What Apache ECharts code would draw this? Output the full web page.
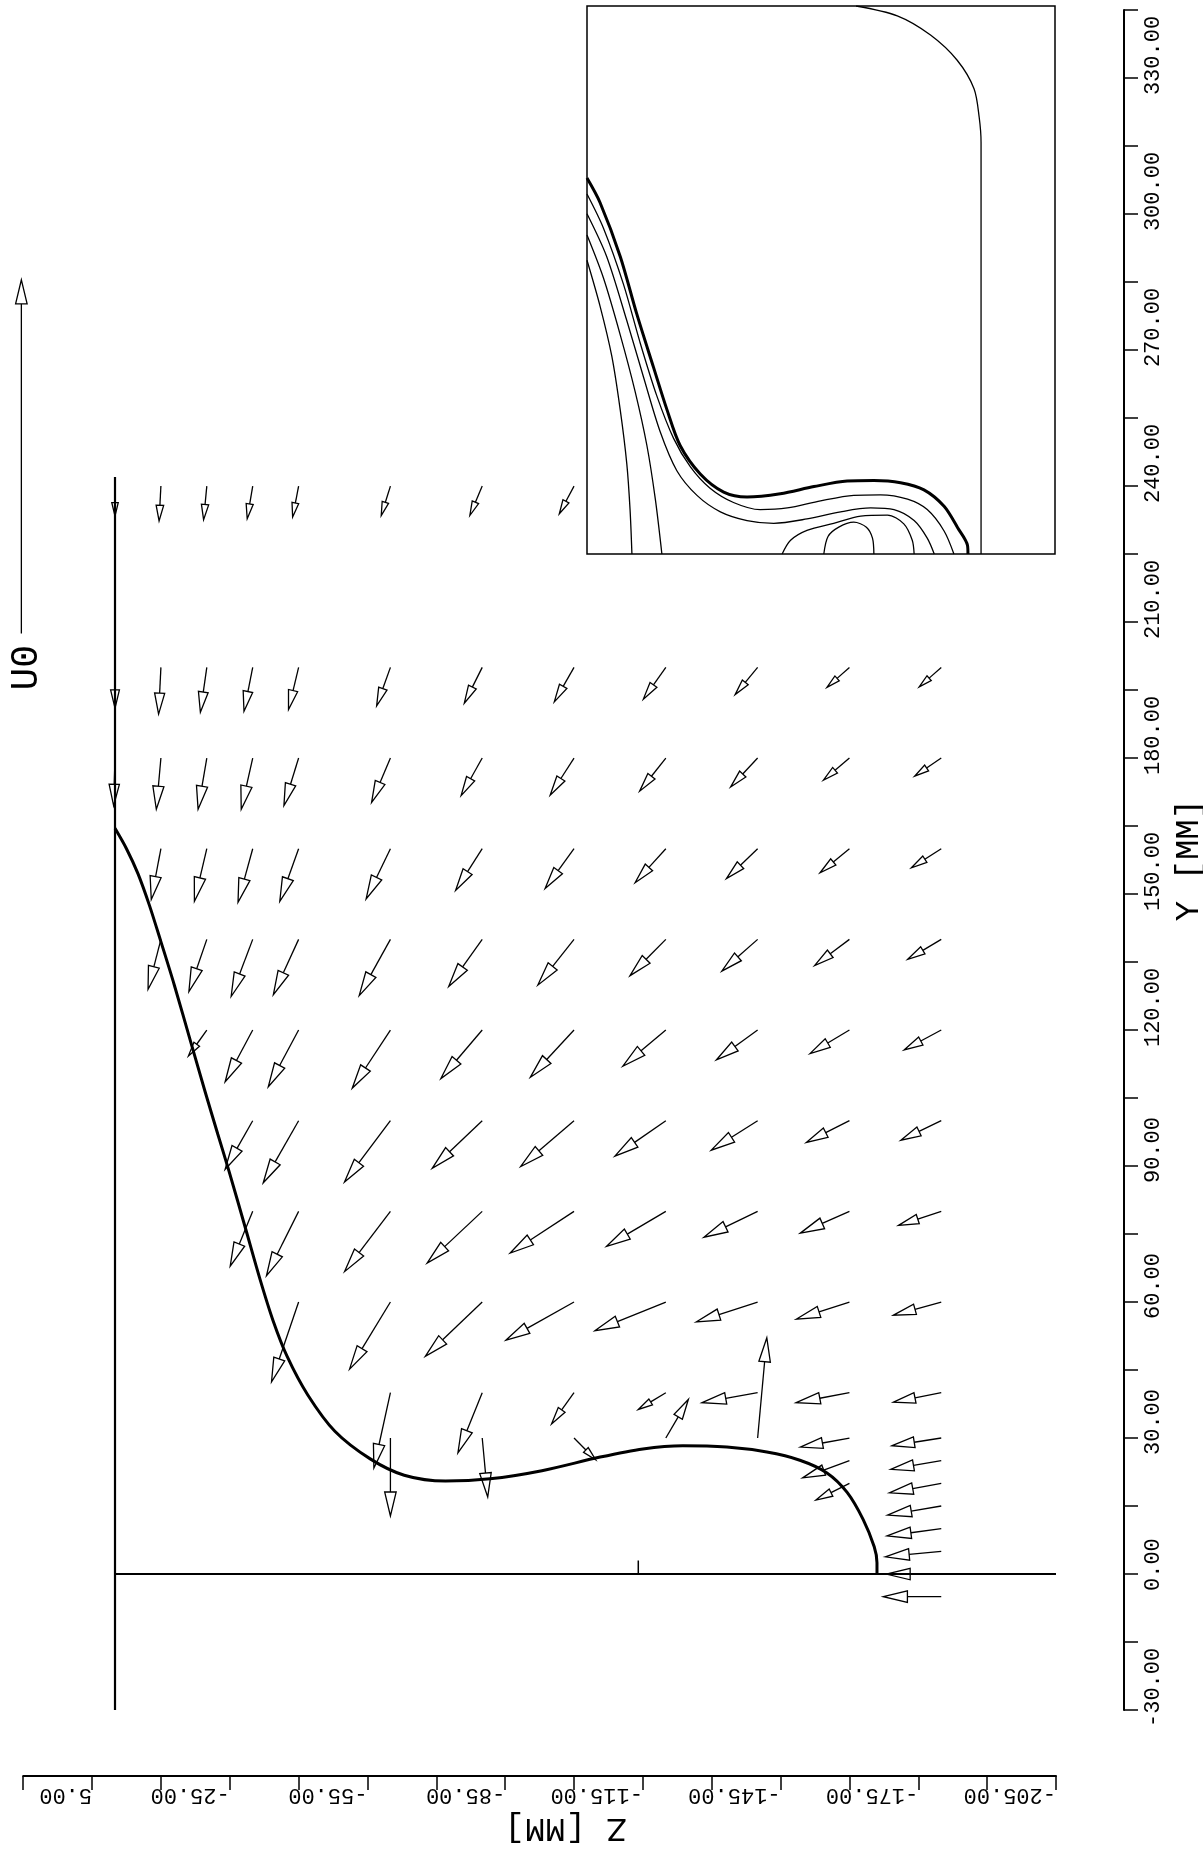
<!DOCTYPE html>
<html lang="en">
<head>
<meta charset="UTF-8">
<title>Velocity field</title>
<style>
  html, body { margin: 0; padding: 0; background: #fff; }
  #chart { width: 1203px; height: 1856px; }
</style>
</head>
<body>
<div id="chart"></div>
<script src="https://cdn.jsdelivr.net/npm/echarts@6/dist/echarts.min.js"></script>
<script>
  // main plot, Z and Y in mm
  var Z_MIN = -205, Z_MAX = 20
  var Y_MIN = -30, Y_MAX = 345
  var TICK_STEP = 15

  // body contour
  var SURFACE = [
    [0, 164.5], [-2.5, 160], [-5, 154.5], [-7.5, 147.5], [-10, 139.5], [-12.9, 130], [-16.6, 117],
    [-19.6, 106.5], [-22.4, 97], [-24.8, 89], [-28.5, 76], [-31.6, 65], [-34.4, 56],
    [-37.5, 48], [-42, 39.5], [-47.9, 31.5], [-55.6, 25.4], [-63, 21.8], [-72, 20.5],
    [-81.7, 21], [-93, 22.8], [-105.7, 25.8], [-115, 27.6], [-123.7, 28.3], [-133.3, 28],
    [-142, 26.9], [-149.2, 25.1], [-155.1, 22.3], [-159.5, 18], [-163, 12], [-165.4, 6],
    [-166, 2.5], [-166, 0]
  ]
  var WALL = [[0, -30], [0, 242]]
  var FLOOR = [[0, 0], [-205, 0]]
  var FLOOR_MARK = [[-114, 0], [-114, 3]]

  // velocity arrows: [z, y, dz, dy], tail at (z, y), arrow size in mm
  var ARROWS_UPPER = [
    [0, 240, 0, -6.6], [-10, 240, 0.4, -7.7], [-20, 240, 0.7, -7.4], [-30, 240, 1.2, -7.2],
    [-40, 240, 1.3, -6.8], [-60, 240, 2.0, -6.5], [-80, 240, 2.7, -6.5], [-100, 240, 3.2, -6.1],

    [0, 200, 0, -9.0], [-10, 200, 0.5, -10.3], [-20, 200, 1.4, -9.9], [-30, 200, 1.9, -9.7],
    [-40, 200, 2.2, -9.3], [-60, 200, 3.0, -8.5], [-80, 200, 3.9, -7.9], [-100, 200, 4.3, -7.6],
    [-120, 200, 4.9, -7.0], [-140, 200, 4.9, -6.0], [-160, 200, 4.9, -4.4], [-180, 200, 4.8, -4.3],

    [0, 180, 0.3, -10.5], [-10, 180, 1.0, -11.3], [-20, 180, 1.9, -11.3], [-30, 180, 2.5, -11.3],
    [-40, 180, 3.2, -10.5], [-60, 180, 4.1, -9.8], [-80, 180, 4.6, -8.3], [-100, 180, 5.2, -8.2],
    [-120, 180, 5.7, -7.3], [-140, 180, 5.9, -6.4], [-160, 180, 5.7, -4.9], [-180, 180, 5.8, -4.0],

    [-10, 160, 2.1, -11.2], [-20, 160, 2.7, -11.6], [-30, 160, 3.2, -11.8], [-40, 160, 4.1, -11.6],
    [-60, 160, 5.3, -11.1], [-80, 160, 5.8, -9.2], [-100, 160, 6.3, -8.8], [-120, 160, 6.7, -7.5],
    [-140, 160, 6.8, -6.6], [-160, 160, 6.4, -5.3], [-180, 160, 6.5, -4.2]
  ]
  var ARROWS_MIDDLE = [
    [-10, 140, 2.8, -11.0], [-20, 140, 3.9, -11.5], [-30, 140, 4.7, -12.6], [-40, 140, 5.5, -12.2],
    [-60, 140, 6.8, -12.4], [-80, 140, 7.3, -10.4], [-100, 140, 7.9, -10.1], [-120, 140, 7.8, -8.0],
    [-140, 140, 7.8, -7.0], [-160, 140, 7.6, -5.8], [-180, 140, 7.3, -4.4],

    [-20, 120, 4.0, -5.7], [-30, 120, 6.0, -11.4], [-40, 120, 6.6, -12.5], [-60, 120, 8.3, -12.8],
    [-80, 120, 9.0, -10.7], [-100, 120, 9.5, -10.4], [-120, 120, 9.4, -8.0], [-140, 120, 9.0, -6.6],
    [-160, 120, 8.6, -5.2], [-180, 120, 8.1, -4.4],

    [-30, 100, 6.0, -10.7], [-40, 100, 7.7, -13.7], [-60, 100, 10.0, -13.5], [-80, 100, 10.9, -10.5],
    [-100, 100, 11.6, -10.1], [-120, 100, 11.1, -7.8], [-140, 100, 10.1, -6.5], [-160, 100, 9.4, -4.8],
    [-180, 100, 8.8, -4.3],

    [-30, 80, 4.9, -12.1], [-40, 80, 7.0, -14.2], [-60, 80, 10.0, -13.3], [-80, 80, 12.0, -11.4],
    [-100, 80, 13.9, -9.2], [-120, 80, 12.9, -7.7], [-140, 80, 11.7, -5.7], [-160, 80, 10.7, -4.8],
    [-180, 80, 9.3, -3.1]
  ]
  var ARROWS_LOWER = [
    [-40, 60, 5.9, -17.6], [-60, 60, 8.9, -14.8], [-80, 60, 12.4, -12.0], [-100, 60, 14.8, -8.4],
    [-120, 60, 15.4, -6.3], [-140, 60, 13.4, -4.4], [-160, 60, 11.6, -3.8], [-180, 60, 10.4, -2.9],

    [-60, 40, 3.6, -16.6], [-80, 40, 5.3, -13.3], [-100, 40, 4.9, -6.9], [-120, 40, 6.0, -3.7],
    [-140, 40, 12.1, -2.2], [-160, 40, 11.6, -2.2], [-180, 40, 10.4, -2.1],

    [-60, 30, 0, -17.2], [-80, 30, -1.2, -13.0], [-100, 30, -4.7, -4.8], [-120, 30, -4.9, 8.5],
    [-140, 30, -2.0, 22.1], [-160, 30, 10.7, -2.0], [-180, 30, 10.7, -1.7],

    [-160, 25, 10.2, -3.8], [-180, 25, 11.0, -1.9],
    [-160, 20, 7.3, -3.7], [-180, 20, 11.3, -2.1],
    [-180, 15, 11.7, -2.0], [-180, 10, 11.8, -1.6], [-180, 5, 12.2, -1.2],
    [-180, 0, 12.0, 0], [-180, -5, 12.6, 0]
  ]
  // reference arrow U0
  var U0_ARROW = [[20.4, 207.5, 0, 78]]

  // inset, in percent of its box
  var INSET_WALL = [[57.5, 100], [66.3, 98.2], [73.4, 94.7], [79.1, 90.1], [82.7, 84.9], [83.8, 79.7], [84.2, 75.1], [84.2, 0]]
  var INSET_C0 = [
    [0, 68.6], [2.8, 64.1], [7.1, 54.3], [10.6, 43.9], [14.2, 34.1], [17.1, 26.3], [19.9, 19.8],
    [24.2, 14.6], [29.2, 11.3], [34.2, 10.4], [41.3, 11.0], [48.5, 12.3], [55.6, 13.3], [61.3, 13.4],
    [67.0, 13.0], [72.0, 11.7], [76.3, 8.7], [79.2, 4.8], [81.3, 1.6], [81.4, 0]
  ]
  var INSET_C1 = [
    [0, 65.7], [3.5, 59.5], [7.8, 49.2], [11.3, 38.7], [14.9, 28.9], [18.5, 21.1], [22.1, 15.9],
    [26.3, 12.0], [31.3, 9.4], [37.0, 8.1], [42.8, 8.4], [49.9, 9.7], [57.0, 10.7], [62.7, 10.8],
    [68.5, 10.0], [72.7, 8.1], [76.3, 4.2], [78.4, 0]
  ]
  var INSET_C2 = [
    [0, 62.1], [4.2, 54.3], [8.5, 42.6], [12.1, 32.2], [15.6, 22.4], [19.2, 15.2], [23.5, 10.7],
    [28.5, 7.7], [34.2, 6.1], [39.9, 5.6], [47.0, 6.4], [54.2, 7.7], [60.6, 8.4], [65.6, 8.1],
    [69.9, 6.1], [72.7, 2.9], [74.2, 0]
  ]
  var INSET_C3 = [[41.7, 0], [43.5, 2.5], [47.0, 4.3], [52.7, 5.6], [58.5, 6.9], [64.2, 7.1], [67.7, 5.5], [69.5, 2.5], [69.9, 0]]
  var INSET_C4 = [[50.6, 0], [51.5, 3.2], [53.8, 4.9], [57.0, 5.8], [59.7, 4.9], [61.0, 2.9], [61.3, 0]]
  var INSET_C5 = [[0, 58.2], [3.5, 50.4], [7.1, 40.0], [10.3, 29.6], [12.8, 19.8], [14.6, 10.0], [16.0, 0]]
  var INSET_C6 = [[0, 53.6], [2.8, 45.2], [5.3, 36.1], [7.1, 26.3], [8.5, 16.5], [9.2, 8.1], [9.6, 0]]

  var FONT = '"Liberation Mono", "DejaVu Sans Mono", monospace'

  function arrowItem(params, api) {
    var z = api.value(0), y = api.value(1)
    var p0 = api.coord([z, y])
    var p1 = api.coord([z + api.value(2), y + api.value(3)])
    var dx = p1[0] - p0[0], dy = p1[1] - p0[1]
    var len = Math.sqrt(dx * dx + dy * dy) || 1
    var ux = dx / len, uy = dy / len
    var h = Math.min(len * 0.45, 24)
    var w = h * 0.24
    var bx = p1[0] - ux * h, by = p1[1] - uy * h
    return {
      type: 'group',
      children: [
        { type: 'line', shape: { x1: p0[0], y1: p0[1], x2: bx, y2: by },
          style: { stroke: '#000', lineWidth: 1.3 } },
        { type: 'polygon',
          shape: { points: [[p1[0], p1[1]], [bx - uy * w, by + ux * w], [bx + uy * w, by - ux * w]] },
          style: { fill: '#fff', stroke: '#000', lineWidth: 1.3 } }
      ]
    }
  }

  function plainLine(data, width, gridIdx, z) {
    return {
      type: 'line', data: data, xAxisIndex: gridIdx, yAxisIndex: gridIdx,
      symbol: 'none', silent: true, z: z || 5,
      lineStyle: { color: '#000', width: width }
    }
  }

  var chart = echarts.init(document.getElementById('chart'), null, { renderer: 'canvas' })

  var axisLine = { show: true, onZero: false, lineStyle: { color: '#000', width: 2 } }
  var axisTick = { show: true, inside: false, length: 14, lineStyle: { color: '#000', width: 1.5 } }

  var option = {
    animation: false,
    backgroundColor: '#fff',
    grid: [
      { left: 23.2, right: 147, top: 10.1, bottom: 146, containLabel: false, outerBoundsMode: 'none' },
      { left: 587, top: 6, width: 468, height: 548, show: true, borderColor: '#000', borderWidth: 1.5,
        backgroundColor: '#fff', containLabel: false, outerBoundsMode: 'none' }
    ],
    xAxis: [
      {
        gridIndex: 0, type: 'value', min: Z_MIN, max: Z_MAX, interval: TICK_STEP, inverse: true,
        position: 'bottom', offset: 66,
        axisLine: axisLine, axisTick: axisTick, splitLine: { show: false },
        axisLabel: {
          rotate: 180, align: 'left', margin: 8,
          fontFamily: FONT, fontSize: 22, color: '#000',
          formatter: function (v) { return Math.round(v - 5) % 30 === 0 ? v.toFixed(2) : '' }
        },
        name: 'Z [MM]', nameLocation: 'middle', nameRotate: 180, nameGap: 20,
        nameTextStyle: { fontFamily: FONT, fontSize: 34, color: '#000', padding: [0, 52, 0, 0] }
      },
      { gridIndex: 1, type: 'value', min: 0, max: 100, show: false }
    ],
    yAxis: [
      {
        gridIndex: 0, type: 'value', min: Y_MIN, max: Y_MAX, interval: TICK_STEP,
        position: 'right', offset: 68,
        axisLine: axisLine, axisTick: axisTick, splitLine: { show: false },
        axisLabel: {
          rotate: 90, align: 'left', padding: [0, 0, 0, -17], margin: 18,
          fontFamily: FONT, fontSize: 22, color: '#000',
          formatter: function (v) { return Math.round(v) % 30 === 0 ? v.toFixed(2) : '' }
        },
        name: 'Y [MM]', nameLocation: 'middle', nameRotate: 90, nameGap: 44,
        nameTextStyle: { fontFamily: FONT, fontSize: 34, color: '#000' }
      },
      { gridIndex: 1, type: 'value', min: 0, max: 100, show: false }
    ],
    graphic: [
      { type: 'text', left: 8, top: 645, rotation: Math.PI / 2,
        style: { text: 'U0', font: '38px "Liberation Mono"', fill: '#000' } }
    ],
    series: [
      {
        type: 'custom', name: 'velocity', xAxisIndex: 0, yAxisIndex: 0, clip: false, silent: true, z: 3,
        dimensions: ['z', 'y', 'dz', 'dy'], encode: { x: 0, y: 1 },
        renderItem: arrowItem,
        data: ARROWS_UPPER.concat(ARROWS_MIDDLE, ARROWS_LOWER)
      },
      {
        type: 'custom', name: 'U0', xAxisIndex: 0, yAxisIndex: 0, clip: false, silent: true, z: 3,
        dimensions: ['z', 'y', 'dz', 'dy'], encode: { x: 0, y: 1 },
        renderItem: arrowItem, data: U0_ARROW
      },
      plainLine(WALL, 2.2, 0, 6),
      plainLine(FLOOR, 2.2, 0, 6),
      plainLine(FLOOR_MARK, 1.5, 0, 6),
      Object.assign(plainLine(SURFACE, 3, 0, 7), { smooth: 0.3 }),
      Object.assign(plainLine(INSET_WALL, 1.3, 1), { smooth: 0.3 }),
      Object.assign(plainLine(INSET_C0, 3, 1), { smooth: 0.3 }),
      Object.assign(plainLine(INSET_C1, 1.3, 1), { smooth: 0.3 }),
      Object.assign(plainLine(INSET_C2, 1.3, 1), { smooth: 0.3 }),
      Object.assign(plainLine(INSET_C3, 1.3, 1), { smooth: 0.3 }),
      Object.assign(plainLine(INSET_C4, 1.3, 1), { smooth: 0.3 }),
      Object.assign(plainLine(INSET_C5, 1.3, 1), { smooth: 0.3 }),
      Object.assign(plainLine(INSET_C6, 1.3, 1), { smooth: 0.3 })
    ]
  }

  chart.setOption(option)
  window.addEventListener('resize', chart.resize)
</script>
</body>
</html>
